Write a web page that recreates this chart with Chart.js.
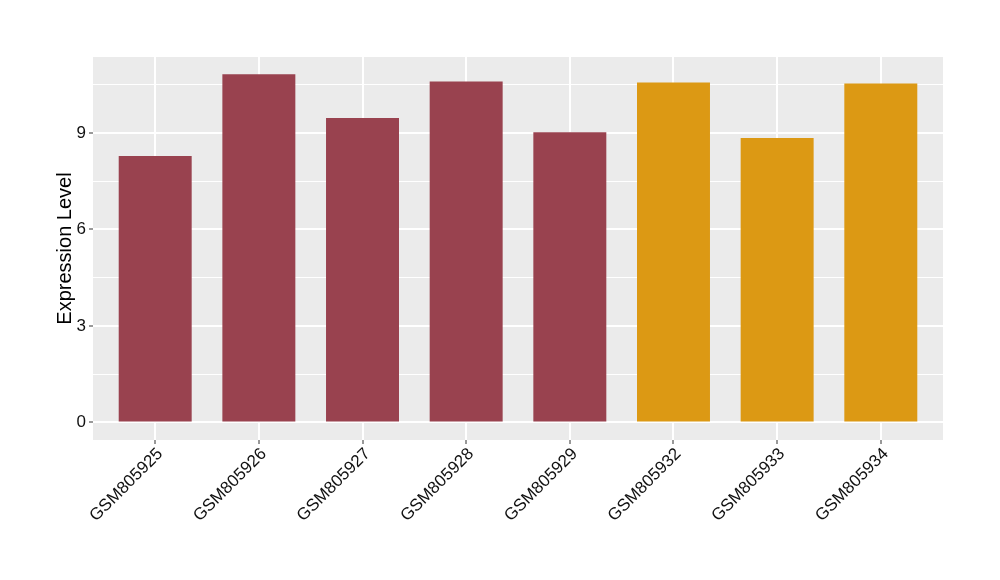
<!DOCTYPE html>
<html><head><meta charset="utf-8">
<script src="https://cdn.jsdelivr.net/npm/chart.js@4/dist/chart.umd.min.js"></script>
<style>html,body{margin:0;padding:0;background:#fff}#wrap{width:1000px;height:580px}</style>
</head><body><div id="wrap"><canvas id="c" width="1000" height="580"></canvas></div>
<script>
const categories = ["GSM805925","GSM805926","GSM805927","GSM805928","GSM805929","GSM805932","GSM805933","GSM805934"];
const values = [8.28, 10.82, 9.46, 10.60, 9.02, 10.57, 8.84, 10.54];
const groups = ["A","A","A","A","A","B","B","B"];
const groupColors = {A:"#99424F", B:"#DC9914"};
const yTicks = [0, 3, 6, 9];
const yMinorTicks = [1.5, 4.5, 7.5, 10.5];

const panelBg = {
  id:'panelBg',
  beforeDraw(chart){
    const {ctx, chartArea:a} = chart;
    ctx.save(); ctx.fillStyle = '#EBEBEB';
    ctx.fillRect(a.left, a.top, a.right-a.left, a.bottom-a.top); ctx.restore();
  }
};

const allY = yTicks.concat(yMinorTicks).sort((a,b)=>a-b);

new Chart(document.getElementById('c'), {
  type:'bar',
  data:{
    datasets:[{
      data: values.map((v,i)=>({x:i, y:v})),
      backgroundColor: groups.map(g=>groupColors[g]),
      barPercentage: 0.704,
      categoryPercentage: 1.0,
      borderWidth:0
    }]
  },
  plugins:[panelBg],
  options:{
    responsive:false, animation:false,
    layout:{padding:{left:53, top:57, right:57, bottom:0}},
    plugins:{legend:{display:false}, tooltip:{enabled:false}},
    scales:{
      x:{
        type:'linear', min:-0.6, max:7.6, offset:false,
        afterBuildTicks(s){ s.ticks = categories.map((c,i)=>({value:i})); },
        afterFit(s){ s.height = 140; },
        ticks:{
          autoSkip:false, maxRotation:45, minRotation:45, padding:0, labelOffset:5,
          color:'#111', font:{family:'Liberation Sans', size:17},
          callback:(v)=>categories[v]
        },
        grid:{offset:false, color:'#FFFFFF', lineWidth:2, drawTicks:true, tickLength:4, tickColor:'#333333', tickWidth:1},
        border:{display:false}
      },
      y:{
        type:'linear', min:-0.546, max:11.36,
        afterBuildTicks(s){ s.ticks = allY.map(v=>({value:v})); },
        afterFit(s){ s.width = 40; },
        ticks:{
          autoSkip:false, padding:3, color:'#111', font:{family:'Liberation Sans', size:17},
          callback:(v)=> yTicks.includes(v) ? String(v) : ''
        },
        grid:{
          color:'#FFFFFF',
          lineWidth:(c)=> yTicks.includes(c.tick.value) ? 2 : 1,
          tickLength:4,
          tickColor:(c)=> yTicks.includes(c.tick.value) ? '#333333' : 'rgba(0,0,0,0)',
          tickWidth:1
        },
        border:{display:false},
        title:{display:true, text:'Expression Level', color:'#000', font:{family:'Liberation Sans', size:20}, padding:{top:0,bottom:0}}
      }
    }
  }
});
</script></body></html>
